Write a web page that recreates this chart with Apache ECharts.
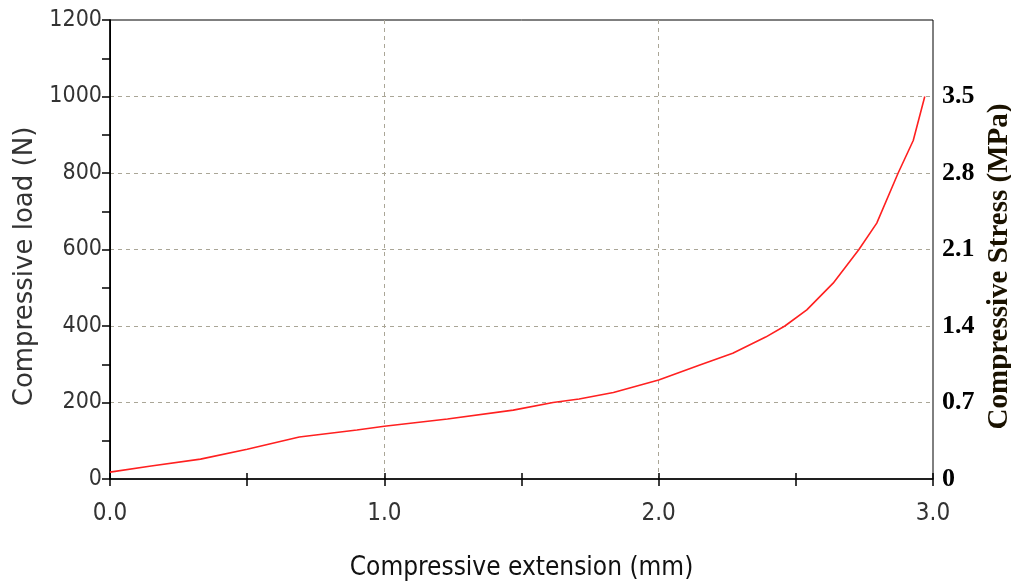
<!DOCTYPE html>
<html>
<head>
<meta charset="utf-8">
<script src="https://cdn.jsdelivr.net/npm/echarts@6/dist/echarts.min.js"></script>
<style>
  html, body { margin: 0; padding: 0; background: #fff; }
  #main { width: 1011px; height: 584px; }
</style>
</head>
<body>
<div id="main"></div>
<script>
// extension (mm) and load (N)
var extension = [0, 0.15, 0.33, 0.5, 0.69, 0.9, 1.0, 1.23, 1.47, 1.615, 1.71, 1.835, 2.0,
                 2.15, 2.27, 2.39, 2.46, 2.54, 2.636, 2.73, 2.795, 2.873, 2.928, 2.97];
var load = [18, 34, 52, 78, 110, 128, 138, 157, 180, 200, 209, 226, 259,
            298, 329, 371, 400, 442, 512, 600, 669, 800, 885, 1000];
var stressTicks = ['0', '0.7', '1.4', '2.1', '2.8', '3.5'];

var myChart;
var sans = 'DejaVu Sans Condensed';
var serif = 'Liberation Serif';

function buildOption() {
    var pts = extension.map(function (x, i) { return [x, load[i]]; });
    var dashed = { color: '#aaa697', type: [4, 4], width: 1 };
    return {
        animation: false,
        grid: {
            left: 110, right: 78, top: 20, bottom: 105,
            outerBoundsMode: 'none',
            show: true, borderColor: '#000', borderWidth: 1
        },
        xAxis: [{
            type: 'value', position: 'bottom', min: 0, max: 3, interval: 0.5,
            name: 'Compressive extension (mm)', nameLocation: 'middle', nameGap: 76,
            nameTextStyle: { fontFamily: sans, fontSize: 26, color: '#111' },
            axisLine: { lineStyle: { color: '#000', width: 1.5 } },
            axisTick: { inside: false, length: 7, lineStyle: { color: '#000', width: 1.5 } },
            axisLabel: {
                margin: 23, fontFamily: sans, fontSize: 24, color: '#333',
                formatter: function (v) { return Math.abs(v - Math.round(v)) < 1e-6 ? v.toFixed(1) : ''; }
            },
            splitLine: { show: false }
        }, {
            // upper half of the ticks that cross the x axis
            type: 'value', position: 'bottom', offset: -6, min: 0, max: 3, interval: 0.5,
            axisLine: { show: false },
            axisTick: { show: true, length: 6, lineStyle: { color: '#000', width: 1.5 } },
            axisLabel: { show: false },
            splitLine: { show: false }
        }, {
            type: 'value', position: 'bottom', min: 0, max: 3, interval: 1,
            axisLine: { show: false }, axisTick: { show: false }, axisLabel: { show: false },
            splitLine: { show: true, showMinLine: false, showMaxLine: false, lineStyle: dashed }
        }],
        yAxis: [{
            type: 'value', position: 'left', min: 0, max: 1200, interval: 200,
            name: 'Compressive load (N)', nameLocation: 'middle', nameGap: 72,
            nameTextStyle: { fontFamily: 'DejaVu Sans', fontSize: 26, color: '#333', padding: [0, 34, 0, 0] },
            axisLine: { show: true, lineStyle: { color: '#000', width: 1.5 } },
            axisTick: { show: true, length: 8, lineStyle: { color: '#000', width: 1.5 } },
            minorTick: { show: true, splitNumber: 2, length: 8, lineStyle: { color: '#000', width: 1.5 } },
            axisLabel: {
                margin: 8, fontFamily: sans, fontSize: 23, color: '#333',
                formatter: function (v) { return String(v); }
            },
            splitLine: { show: true, showMinLine: false, showMaxLine: false, lineStyle: dashed }
        }, {
            type: 'value', position: 'right', min: 0, max: 4.2, interval: 0.7,
            name: 'Compressive Stress (MPa)', nameLocation: 'middle', nameGap: 51,
            nameTextStyle: { fontFamily: serif, fontWeight: 'bold', fontSize: 29, color: '#1a1200', padding: [0, 34, 0, 0] },
            axisLine: { show: true, lineStyle: { color: '#000', width: 1 } },
            axisTick: { show: false },
            axisLabel: {
                margin: 9, fontFamily: serif, fontWeight: 'bold', fontSize: 26, color: '#000',
                formatter: function (v, i) { return stressTicks[i] || ''; }
            },
            splitLine: { show: false }
        }],
        series: [{
            type: 'line',
            xAxisIndex: 0, yAxisIndex: 0,
            data: pts,
            showSymbol: false,
            lineStyle: { color: '#ff2020', width: 1.6 }
        }]
    };
}

function main() {
    myChart = echarts.init(document.getElementById('main'), null, { renderer: 'canvas' });
    myChart.setOption(buildOption());
}
main();
</script>
</body>
</html>
